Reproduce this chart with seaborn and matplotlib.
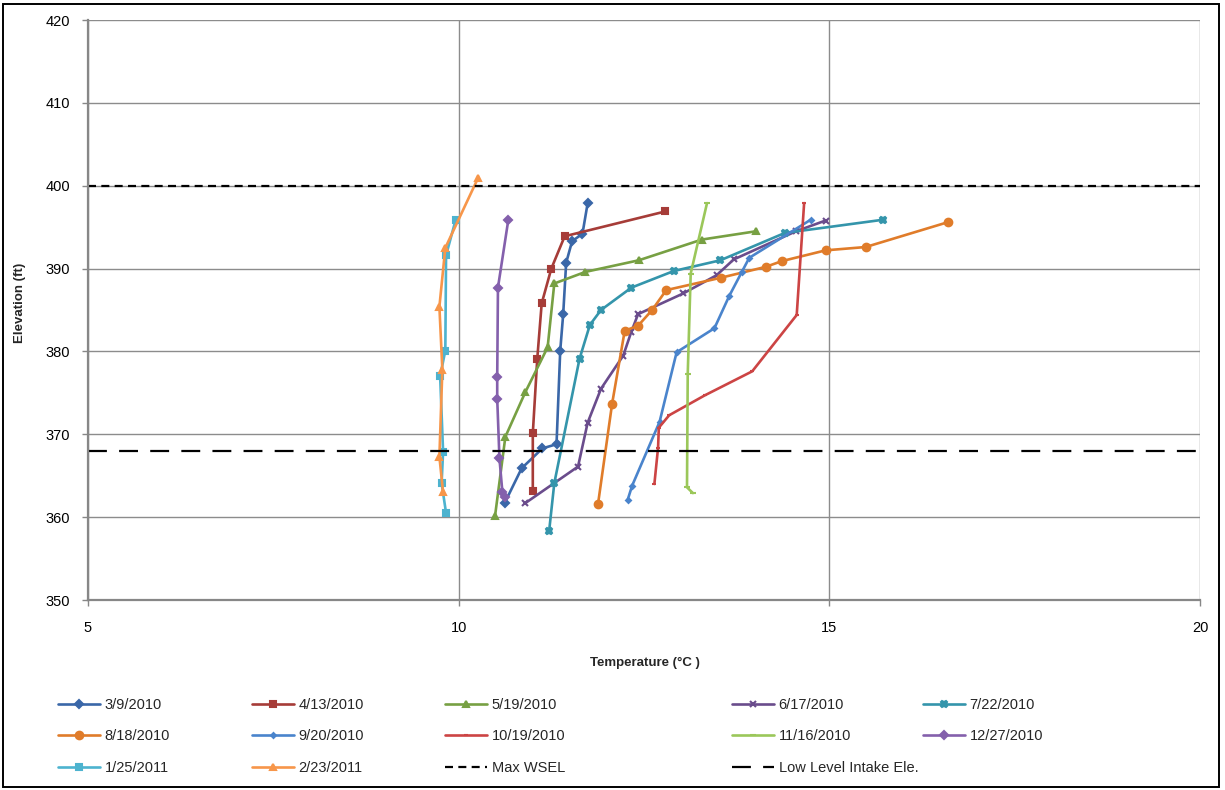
import matplotlib
matplotlib.use("Agg")
import matplotlib.pyplot as plt
import seaborn as sns
import pandas as pd
from matplotlib.patches import Rectangle

# Temperature (deg C) / elevation (ft) profiles for each sampling date
temp_0309 = [11.74, 11.67, 11.53, 11.45, 11.41, 11.37, 11.32, 11.13, 10.85, 10.62]
elev_0309 = [397.9, 394.2, 393.3, 390.7, 384.5, 380.1, 368.8, 368.3, 365.9, 361.7]

temp_0413 = [12.79, 11.43, 11.25, 11.12, 11.06, 11.00, 11.00]
elev_0413 = [396.9, 393.9, 390.0, 385.8, 379.1, 370.1, 363.2]

temp_0519 = [14.01, 13.28, 12.43, 11.71, 11.29, 11.20, 10.90, 10.63, 10.49]
elev_0519 = [394.5, 393.5, 391.0, 389.6, 388.2, 380.5, 375.1, 369.7, 360.1]

temp_0617 = [14.95, 14.55, 13.71, 13.48, 13.03, 12.42, 12.33, 12.22, 11.92, 11.74, 11.61, 10.90]
elev_0617 = [395.8, 394.5, 391.1, 389.2, 387.0, 384.5, 382.4, 379.5, 375.5, 371.4, 366.1, 361.7]

temp_0722 = [15.73, 14.40, 13.53, 12.90, 12.33, 11.92, 11.77, 11.63, 11.29, 11.22]
elev_0722 = [395.9, 394.3, 391.0, 389.7, 387.7, 385.0, 383.2, 379.1, 364.1, 358.3]

temp_0818 = [16.60, 15.49, 14.95, 14.36, 14.14, 13.54, 12.80, 12.61, 12.42, 12.24, 12.07, 11.88]
elev_0818 = [395.6, 392.6, 392.2, 390.9, 390.2, 388.9, 387.4, 385.0, 383.1, 382.5, 373.7, 361.6]

temp_0920 = [14.75, 13.92, 13.82, 13.65, 13.45, 12.94, 12.71, 12.34, 12.28]
elev_0920 = [395.9, 391.3, 389.6, 386.7, 382.8, 379.9, 371.5, 363.8, 362.1]

temp_1019 = [14.66, 14.56, 13.96, 13.32, 12.84, 12.70, 12.69, 12.64]
elev_1019 = [397.9, 384.4, 377.6, 374.7, 372.3, 370.8, 368.4, 364.0]

temp_1116 = [13.35, 13.13, 13.09, 13.08, 13.16]
elev_1116 = [397.9, 389.4, 377.3, 363.6, 362.9]

temp_1227 = [10.67, 10.53, 10.52, 10.52, 10.55, 10.59, 10.62]
elev_1227 = [395.9, 387.7, 376.9, 374.3, 367.1, 363.0, 362.4]

temp_0125 = [9.96, 9.83, 9.82, 9.75, 9.79, 9.77, 9.83]
elev_0125 = [395.9, 391.6, 380.1, 377.0, 367.9, 364.1, 360.5]

temp_0223 = [10.26, 9.82, 9.74, 9.78, 9.74, 9.79]
elev_0223 = [400.9, 392.5, 385.4, 377.8, 367.3, 363.0]

dates = ["3/9/2010", "4/13/2010", "5/19/2010", "6/17/2010", "7/22/2010",
         "8/18/2010", "9/20/2010", "10/19/2010", "11/16/2010", "12/27/2010",
         "1/25/2011", "2/23/2011"]
temps = [temp_0309, temp_0413, temp_0519, temp_0617, temp_0722, temp_0818,
         temp_0920, temp_1019, temp_1116, temp_1227, temp_0125, temp_0223]
elevs = [elev_0309, elev_0413, elev_0519, elev_0617, elev_0722, elev_0818,
         elev_0920, elev_1019, elev_1116, elev_1227, elev_0125, elev_0223]

# Reference elevations
max_wsel = 400
low_intake = 368
x_range = [5, 20]

colors = ["#3A67A8", "#A63C38", "#77A043", "#6A4C8C", "#3495AB", "#E07C2A",
          "#4A84CC", "#CC4444", "#9BC75A", "#8460AC", "#4DB3CF", "#F7964A"]
markers = ["D", "s", "^", "x", "X", "o", "D", "_", "_", "D", "s", "^"]
msizes = [3.8, 5.0, 5.0, 4.5, 4.8, 5.5, 2.5, 3.5, 4.5, 3.6, 5.0, 5.0]

sns.set_theme(style="white")
plt.rcParams["font.family"] = ["Liberation Sans", "DejaVu Sans"]

fig = plt.figure(figsize=(12.25, 7.9), dpi=100)
ax = fig.add_axes([88 / 1225, 1 - 600 / 790, 1112 / 1225, 580 / 790])

handles = []
for name, t, e, c, m, s in zip(dates, temps, elevs, colors, markers, msizes):
    df = pd.DataFrame({"Temperature": t, "Elevation": e})
    sns.lineplot(data=df, x="Temperature", y="Elevation", sort=False,
                 estimator=None, color=c, marker=m, markersize=s,
                 markeredgecolor=c, markeredgewidth=1.5, linewidth=1.9,
                 ax=ax, legend=False)
    ln = ax.lines[-1]
    ln.set_label(name)
    handles.append(ln)

ref = pd.DataFrame({"Temperature": x_range,
                    "Max": [max_wsel, max_wsel],
                    "Low": [low_intake, low_intake]})
sns.lineplot(data=ref, x="Temperature", y="Max", color="black",
             linewidth=1.6, ax=ax, legend=False)
h_max = ax.lines[-1]
h_max.set_linestyle((0, (3.6, 2.4)))
h_max.set_label("Max WSEL")
sns.lineplot(data=ref, x="Temperature", y="Low", color="black",
             linewidth=1.6, ax=ax, legend=False)
h_low = ax.lines[-1]
h_low.set_linestyle((0, (8.5, 5.5)))
h_low.set_label("Low Level Intake Ele.")

ax.set_xlim(5, 20)
ax.set_ylim(350, 420)
ax.set_xticks([5, 10, 15, 20])
ax.set_yticks(range(350, 421, 10))
ax.grid(True, color="#8C8C8C", linewidth=1.0)
ax.set_axisbelow(True)
for side in ["top", "right"]:
    ax.spines[side].set_visible(False)
for side in ["left", "bottom"]:
    ax.spines[side].set_color("#878787")
    ax.spines[side].set_linewidth(1.6)
ax.tick_params(axis="y", which="major", length=4.5, width=1.0, color="#878787",
               pad=8.5, labelsize=10.5, left=True, labelcolor="black")
ax.tick_params(axis="x", which="major", length=4, width=1.0, color="#878787",
               pad=11, labelsize=10.5, bottom=True, labelcolor="black")

ax.set_xlabel("Temperature (°C )", fontsize=9.5, fontweight="bold")
ax.set_ylabel("Elevation (ft)", fontsize=9.5, fontweight="bold")
ax.xaxis.set_label_coords(0.501, -0.109)
ax.xaxis.label.set_va("center")
ax.yaxis.set_label_coords(-0.061, 0.512)
ax.yaxis.label.set_va("center")

# Legend laid out as five columns under the plot
columns = [
    [handles[0], handles[5], handles[10]],
    [handles[1], handles[6], handles[11]],
    [handles[2], handles[7], h_max],
    [handles[3], handles[8], h_low],
    [handles[4], handles[9]],
]
col_x = [58, 252, 445, 732, 923]
for hs, x in zip(columns, col_x):
    fig.legend(handles=hs, labels=[h.get_label() for h in hs],
               loc="upper left", bbox_to_anchor=(x / 1225, 1 - 698 / 790),
               frameon=False, fontsize=10.5, handlelength=2.9,
               handletextpad=0.3, labelspacing=1.2, borderpad=0,
               borderaxespad=0)

fig.patches.append(Rectangle((3 / 1225, 3 / 790), 1216 / 1225, 783 / 790,
                             transform=fig.transFigure, fill=False,
                             edgecolor="black", linewidth=1.4))

fig.savefig("out.png", dpi=100, facecolor="white")
